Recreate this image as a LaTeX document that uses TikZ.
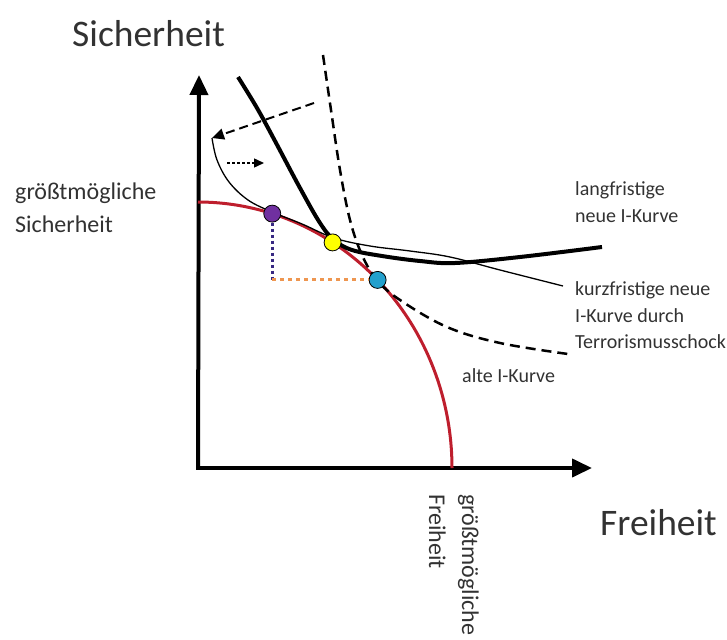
\documentclass[tikz,border=0pt]{standalone}
\usepackage{fontspec}
\setmainfont{Carlito}
\usetikzlibrary{arrows.meta}
\definecolor{ppfred}{RGB}{190,30,45}
\definecolor{txtgray}{RGB}{50,50,50}
\definecolor{dotnavy}{RGB}{55,40,130}
\definecolor{dotorange}{RGB}{238,150,80}
\definecolor{ptpurple}{RGB}{112,48,160}
\definecolor{ptyellow}{RGB}{255,255,0}
\definecolor{ptblue}{RGB}{35,160,205}
\begin{document}
\begin{tikzpicture}[x=1pt,y=-1pt,
  axis/.style={line width=4pt, -{Triangle[length=20pt,width=18pt]}},
  bigtext/.style={inner sep=0pt, anchor=base west, text=txtgray, font=\fontsize{37.5}{40}\selectfont},
  midtext/.style={inner sep=0pt, anchor=base west, text=txtgray, font=\fontsize{24}{28}\selectfont},
  smalltext/.style={inner sep=0pt, anchor=base west, text=txtgray, font=\fontsize{20}{24}\selectfont},
  optpoint/.style={circle, draw=black, line width=0.8pt, minimum size=17pt, inner sep=0pt},
  oldcurve/.style={line width=2.5pt, dash pattern=on 10pt off 6pt},
  newlong/.style={line width=4pt},
  newshort/.style={line width=1.3pt},
  ppf/.style={line width=3pt, draw=ppfred}
]
\useasboundingbox (0,0) rectangle (727,639);

% axes
\coordinate (O) at (198,468);
\coordinate (ytip) at (199,75);
\coordinate (xtip) at (592,468);
\draw[axis] ([yshift=2pt]O) -- (ytip);
\draw[axis] ([xshift=-2pt]O) -- (xtip);

% production possibility frontier (red)
\draw[ppf] plot[domain=0:90, samples=80] ({198+254*cos(\x)},{468-266*sin(\x)});

% old indifference curve (dashed)
\draw[oldcurve] plot[smooth, tension=0.6] coordinates {(323,55) (331,110) (340,170) (350,220) (362,255) (377,280) (400,300) (447,327) (500,343) (568,354)};

% long-run new indifference curve (thick)
\draw[newlong] plot[smooth, tension=0.6] coordinates {(238,77) (257,108) (275,141) (300,188) (320,223) (334,240) (352,250) (382,256) (420,261) (455,263) (520,257) (602,247)};

% short-run new indifference curve (thin)
\draw[newshort] plot[smooth, tension=0.6] coordinates {(212,138) (217,160) (229,182) (248,200) (272,212) (302,224) (334,238) (370,246) (410,251) (450,257) (500,270) (563,286)};

% shift arrows
\coordinate (dashstart) at (314,103);
\coordinate (dashend) at (212,138);
\draw[line width=2pt, dash pattern=on 9pt off 5pt, -{Triangle[length=12pt,width=11pt]}] (dashstart) -- (dashend);
\coordinate (dotstart) at (227,163);
\coordinate (dotend) at (264,163);
\draw[line width=1.4pt, dash pattern=on 3pt off 2pt, -{Triangle[length=10pt,width=9pt]}] (dotstart) -- (dotend);

% optimum points
\node[optpoint, fill=ptpurple] (purple) at ({198+254*cos(73)},{468-266*sin(73)}) {};
\node[optpoint, fill=ptyellow] (yellow) at ({198+254*cos(58)},{468-266*sin(58)}) {};
\node[optpoint, fill=ptblue] (blue) at ({198+254*cos(45)},{468-266*sin(45)}) {};
\coordinate (corner) at (purple |- blue);
\draw[dotnavy, line width=3pt, dash pattern=on 3pt off 3pt] (purple.south) -- (corner);
\draw[dotorange, line width=3pt, dash pattern=on 4pt off 4pt] (corner) -- (blue.west);

% labels
\node[bigtext] (lblS) at (72,47) {Sicherheit};
\node[bigtext] (lblF) at (600,535) {Freiheit};
\node[midtext] (lmaxS1) at (15,199) {größtmögliche};
\node[midtext] (lmaxS2) at (15,232) {Sicherheit};
\node[smalltext] (llong1) at (575,195) {langfristige};
\node[smalltext] (llong2) at (575,222) {neue I-Kurve};
\node[smalltext] (lshort1) at (575,295) {kurzfristige neue};
\node[smalltext] (lshort2) at (575,322) {I-Kurve durch};
\node[smalltext] (lshort3) at (575,348) {Terrorismusschock};
\node[smalltext] (lold) at (462,382) {alte I-Kurve};
\node[midtext, rotate=-90] (lmaxF1) at (462,494) {größtmögliche};
\node[midtext, rotate=-90] (lmaxF2) at (429,494) {Freiheit};
\end{tikzpicture}
\end{document}
